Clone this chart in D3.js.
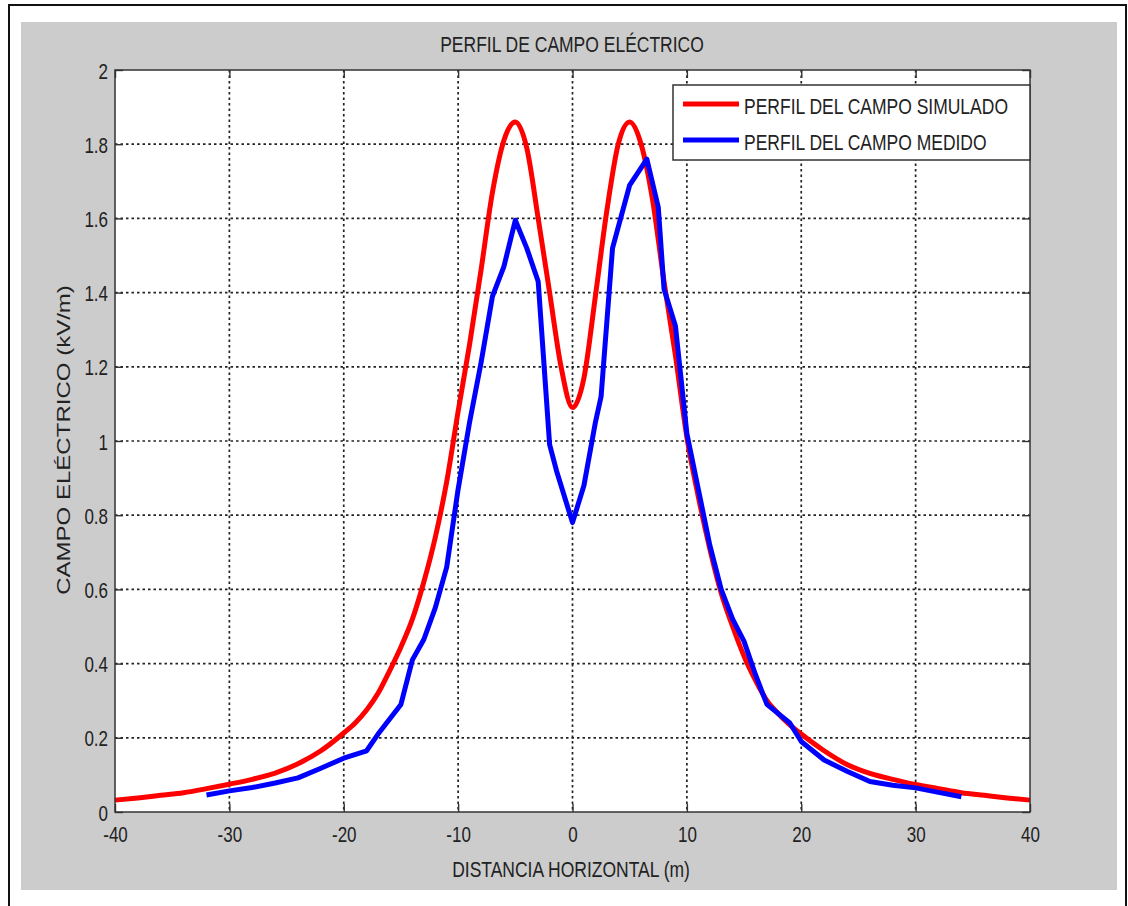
<!DOCTYPE html>
<html>
<head>
<meta charset="utf-8">
<script src="https://cdn.jsdelivr.net/npm/d3@7"></script>
<style>
  body { margin: 0; background: #fff; }
  svg text { font-family: "Liberation Sans", Arial, sans-serif; fill: #222; }
</style>
</head>
<body>
<div id="chart"></div>
<script>
// tick labels
var xTicks = [-40, -30, -20, -10, 0, 10, 20, 30, 40];
var yTicks = [0, 0.2, 0.4, 0.6, 0.8, 1, 1.2, 1.4, 1.6, 1.8, 2];

// simulated profile (red)
var simX = [-40, -38, -36, -34, -32, -30, -28, -26, -24, -22, -20, -19, -18, -17, -16, -15, -14, -13, -12, -11, -10,
    -9, -8, -7, -6, -5, -4, -3, -2, -1, 0, 1, 2, 3, 4, 5, 6, 7, 8, 9, 10,
    11, 12, 13, 14, 15, 16, 17, 18, 19, 20, 22, 24, 26, 28, 30, 32, 34, 36, 38, 40];
var simY = [0.032, 0.038, 0.045, 0.052, 0.063, 0.075, 0.088, 0.105, 0.13, 0.165, 0.213, 0.24, 0.275, 0.32, 0.38, 0.445, 0.52, 0.62, 0.74, 0.89, 1.08,
    1.26, 1.46, 1.67, 1.81, 1.86, 1.79, 1.60, 1.40, 1.20, 1.09, 1.17, 1.39, 1.62, 1.80, 1.86, 1.80, 1.65, 1.43, 1.23, 1.01,
    0.85, 0.71, 0.59, 0.50, 0.42, 0.355, 0.30, 0.265, 0.235, 0.21, 0.165, 0.128, 0.104, 0.088, 0.074, 0.063, 0.052, 0.045, 0.038, 0.032];

// measured profile (blue)
var medX = [-32, -30, -28, -26, -24, -22, -20, -18, -17, -16, -15, -14, -13, -12, -11, -10, -9, -8, -7, -6,
    -5, -4, -3, -2, -1.4, 0, 1, 2, 2.5, 3.5, 5, 6.5, 7.5, 8, 9, 10, 11, 12, 13, 14,
    15, 16, 17, 19, 20, 22, 24, 26, 28, 30, 32, 34];
var medY = [0.046, 0.057, 0.066, 0.078, 0.092, 0.118, 0.145, 0.165, 0.21, 0.25, 0.29, 0.41, 0.465, 0.55, 0.66, 0.87, 1.05, 1.21, 1.39, 1.47,
    1.595, 1.52, 1.43, 0.99, 0.92, 0.78, 0.88, 1.05, 1.12, 1.52, 1.69, 1.76, 1.63, 1.41, 1.31, 1.02, 0.87, 0.72, 0.60, 0.52,
    0.46, 0.37, 0.29, 0.24, 0.19, 0.14, 0.11, 0.082, 0.072, 0.065, 0.053, 0.041];

var seriesNames = ["PERFIL DEL CAMPO SIMULADO", "PERFIL DEL CAMPO MEDIDO"];
var seriesColors = ["#ff0000", "#0000ff"];

(function() {
    var W = 1128, H = 906;
    var pLeft = 115, pRight = 1030, pTop = 70, pBottom = 812;
    var stretch = 1.3;   // text in the picture is tall and narrow

    var svg = d3.select("#chart").append("svg")
        .attr("width", W)
        .attr("height", H);

    // outer frame + grey figure panel
    svg.append("path")
        .attr("d", "M9,906 L9,5 L1126,5 L1126,906")
        .style("fill", "none")
        .style("stroke", "#111")
        .style("stroke-width", 2);
    svg.append("rect")
        .attr("x", 21).attr("y", 22)
        .attr("width", 1096).attr("height", 868)
        .style("fill", "#cccccc");

    var x = d3.scaleLinear().domain([-40, 40]).range([pLeft, pRight]);
    var y = d3.scaleLinear().domain([0, 2]).range([pBottom, pTop]);

    svg.append("rect")
        .attr("x", pLeft).attr("y", pTop)
        .attr("width", pRight - pLeft).attr("height", pBottom - pTop)
        .style("fill", "#fff");

    // dotted grid
    var grid = svg.append("g").style("stroke", "#222").style("stroke-width", 1.7).style("stroke-dasharray", "2.5,3");
    grid.selectAll(".gx").data(xTicks.slice(1, -1)).enter().append("line")
        .attr("x1", function(d) { return x(d); }).attr("x2", function(d) { return x(d); })
        .attr("y1", pTop).attr("y2", pBottom);
    grid.selectAll(".gy").data(yTicks.slice(1, -1)).enter().append("line")
        .attr("y1", function(d) { return y(d); }).attr("y2", function(d) { return y(d); })
        .attr("x1", pLeft).attr("x2", pRight);

    // axes, ticks pointing inwards
    function styleAxis(g) {
        g.select(".domain").remove();
        g.selectAll(".tick line").style("stroke", "#333").style("stroke-width", 1.4);
    }
    var plain = function(d) { return String(d); };   // keep the ascii hyphen as minus

    var xAxis = svg.append("g")
        .attr("transform", "translate(0," + pBottom + ")")
        .call(d3.axisBottom(x).tickValues(xTicks).tickFormat(plain).tickSizeInner(-8).tickSizeOuter(0));
    xAxis.call(styleAxis);
    xAxis.selectAll(".tick text")
        .attr("y", 0).attr("dy", null)
        .attr("transform", "translate(0,30) scale(1," + stretch + ")")
        .style("font-size", "17px");

    var yAxis = svg.append("g")
        .attr("transform", "translate(" + pLeft + ",0)")
        .call(d3.axisLeft(y).tickValues(yTicks).tickFormat(plain).tickSizeInner(-8).tickSizeOuter(0));
    yAxis.call(styleAxis);
    yAxis.selectAll(".tick text")
        .attr("x", 0).attr("dy", null)
        .attr("transform", "translate(-7,8) scale(1," + stretch + ")")
        .style("font-size", "17px");

    svg.append("g")
        .attr("transform", "translate(0," + pTop + ")")
        .call(d3.axisTop(x).tickValues(xTicks).tickSizeInner(-8).tickSizeOuter(0).tickFormat(""))
        .call(styleAxis);
    svg.append("g")
        .attr("transform", "translate(" + pRight + ",0)")
        .call(d3.axisRight(y).tickValues(yTicks).tickSizeInner(-8).tickSizeOuter(0).tickFormat(""))
        .call(styleAxis);

    // curves
    var line = d3.line()
        .x(function(d) { return x(d[0]); })
        .y(function(d) { return y(d[1]); });

    svg.append("path")
        .datum(d3.zip(simX, simY))
        .attr("d", line.curve(d3.curveMonotoneX))
        .style("fill", "none")
        .style("stroke", seriesColors[0])
        .style("stroke-width", 5)
        .style("stroke-linejoin", "round");

    svg.append("path")
        .datum(d3.zip(medX, medY))
        .attr("d", line.curve(d3.curveLinear))
        .style("fill", "none")
        .style("stroke", seriesColors[1])
        .style("stroke-width", 5)
        .style("stroke-linejoin", "round");

    // plot box
    svg.append("rect")
        .attr("x", pLeft).attr("y", pTop)
        .attr("width", pRight - pLeft).attr("height", pBottom - pTop)
        .style("fill", "none")
        .style("stroke", "#333")
        .style("stroke-width", 1.5);

    // legend
    var legend = svg.append("g");
    legend.append("rect")
        .attr("x", 673).attr("y", 85)
        .attr("width", 357).attr("height", 75)
        .style("fill", "#fff")
        .style("stroke", "#333")
        .style("stroke-width", 1.5);
    seriesNames.forEach(function(name, i) {
        var ly = 104 + i * 36;
        legend.append("line")
            .attr("x1", 683).attr("x2", 739)
            .attr("y1", ly).attr("y2", ly)
            .style("stroke", seriesColors[i])
            .style("stroke-width", 5);
        legend.append("text")
            .attr("transform", "translate(744," + (ly + 10) + ") scale(1," + stretch + ")")
            .style("font-size", "17.5px")
            .text(name);
    });

    // titles
    svg.append("text")
        .attr("transform", "translate(572,52) scale(1," + stretch + ")")
        .style("text-anchor", "middle")
        .style("font-size", "17.5px")
        .text("PERFIL DE CAMPO ELÉCTRICO");

    svg.append("text")
        .attr("transform", "translate(571,877) scale(1," + stretch + ")")
        .style("text-anchor", "middle")
        .style("font-size", "17.5px")
        .text("DISTANCIA HORIZONTAL (m)");

    svg.append("text")
        .attr("transform", "translate(70,440) scale(1," + stretch + ") rotate(-90)")
        .style("text-anchor", "middle")
        .style("font-size", "18.5px")
        .text("CAMPO ELÉCTRICO (kV/m)");
})();
</script>
</body>
</html>
